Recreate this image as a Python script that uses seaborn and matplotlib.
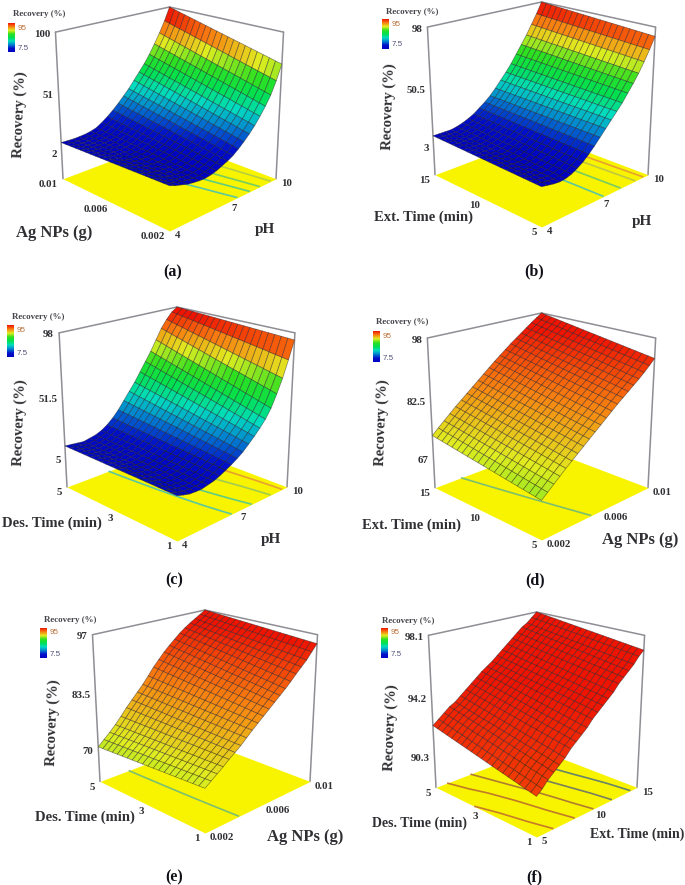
import numpy as np
import matplotlib
matplotlib.use("Agg")
import matplotlib.pyplot as plt
from matplotlib.cm import ScalarMappable
from matplotlib.colors import Normalize
from mpl_toolkits.mplot3d import proj3d
import seaborn as sns

# ---- values ----
# Each surface: response along the right-hand factor at the low and the high end of the left-hand factor
a_low = [14, 12, 10.5, 9, 8.2, 7.6, 7.5, 8.2, 9.5, 11.5, 13.5, 16, 19.5, 23.5, 28, 33, 39, 45.5, 53, 63, 75]
a_high = [10.5, 10.2, 10, 10.2, 10.6, 11.5, 13, 16, 19.5, 23.5, 28, 33, 38, 44, 50, 56, 63, 71, 79.5, 89, 100]
b_low = [9.5, 8.5, 7.5, 7, 7.5, 9, 11.5, 14.5, 18.5, 23, 28, 33, 38, 43, 48, 54, 60, 66.5, 74, 82, 91]
b_high = [12, 12, 12, 12, 13, 14.5, 16.5, 19, 22.5, 26, 30, 35, 40.5, 46, 52, 59, 66, 73, 81, 89, 98]
c_low = [14, 12.5, 11.3, 11, 11, 12, 13, 14.8, 17, 19.3, 22, 25, 29, 33, 37.5, 42.5, 49, 58, 68, 80, 93]
c_high = [14.5, 14, 13.5, 13, 14, 15, 17, 20, 24, 29, 35, 41, 47, 54, 61, 68, 76, 84, 90, 95, 98]
d_low = [68.7, 70, 71.3, 72.6, 73.9, 75.1, 76.3, 77.5, 78.7, 79.9, 81.1, 82.3, 83.5, 84.7, 85.8, 86.9, 88, 89.1, 90.3, 91.6, 93]
d_high = [73.2, 74.7, 76.1, 77.5, 78.9, 80.2, 81.5, 82.8, 84.1, 85.4, 86.7, 88, 89.2, 90.4, 91.6, 92.7, 93.8, 94.9, 96, 97, 98]
e_low = [72, 73, 74, 75, 76.1, 77.1, 78.1, 79.3, 80.5, 81.6, 82.7, 83.8, 84.9, 86, 87.1, 88.3, 89.6, 90.8, 92, 93.5, 95]
e_high = [70.7, 72, 73.3, 74.7, 76.3, 78, 79.5, 81, 82.5, 84.2, 86, 87.5, 89, 90.3, 91.5, 92.7, 93.7, 94.6, 95.4, 96.2, 97]
f_low = [90.7, 91, 91.4, 91.7, 92, 92.3, 92.7, 93, 93.3, 93.6, 94, 94.3, 94.6, 94.9, 95.2, 95.6, 95.9, 96.2, 96.5, 96.9, 97.2]
f_high = [92.4, 92.7, 93, 93.3, 93.5, 93.8, 94.1, 94.4, 94.7, 95, 95.25, 95.5, 95.8, 96.1, 96.4, 96.7, 97, 97.3, 97.5, 97.8, 98.1]

ph_ticks = [4, 7, 10]
ag_ticks = [0.002, 0.006, 0.01]
ext_ticks = [5, 10, 15]
des_ticks = [1, 3, 5]
ag_labels = ["0.002", "0.006", "0.01"]

a_z = [2, 51, 100]
b_z = [3, 50.5, 98]
c_z = [5, 51.5, 98]
d_z = [67, 82.5, 98]
e_z = [70, 83.5, 97]
f_z = [90.3, 94.2, 98.1]
floors = {"a": -21, "b": -21, "c": -18, "d": 59, "e": 62, "f": 88.2}
levels = {"a": [20, 31, 43, 62], "b": [33, 50, 69, 82], "c": [20, 33, 55, 80],
          "d": [79.5], "e": [78], "f": [91.7, 93, 94.2, 95.4, 96.7]}
level_colors = {"a": ["#5CC8A0", "#60CC80", "#78CC60", "#B8D040"],
                "b": ["#5CC8A0", "#78CC60", "#C0C840", "#E8A030"],
                "c": ["#5CC8A0", "#60CC80", "#A0CC50", "#E8A030"],
                "d": ["#7CBF70"], "e": ["#7CBF70"],
                "f": ["#C87A28", "#C07A28", "#B07C30", "#78805C", "#688468"]}

# ---- layout (pixels in the 685x885 picture) ----
W, H = 685, 885
ELEV, FOCAL = 20, 0.55
panels = [
    dict(k="a", lo=a_low, hi=a_high, xt=ph_ticks, xl=["4", "7", "10"], yt=ag_ticks, yl=ag_labels, zt=a_z, zl=["2", "51", "100"],
         L=63, R=276, F=231, T=7, xt_name="pH", yt_name="Ag NPs (g)", xp=(265, 229), yp=(54, 233), zp=(20, 115), tag=(173, 272),
         bar=(8, 23, 7, 29), title=(39, 14), ys=12, xs=11),
    dict(k="b", lo=b_low, hi=b_high, xt=ph_ticks, xl=["4", "7", "10"], yt=ext_ticks, yl=["5", "10", "15"], zt=b_z, zl=["3", "50.5", "98"],
         L=435, R=648, F=227, T=2, xt_name="pH", yt_name="Ext. Time (min)", xp=(642, 222), yp=(423, 217), zp=(389, 107), tag=(534, 271),
         bar=(382, 19, 7, 30), title=(412, 12), ys=10.5, xs=11),
    dict(k="c", lo=c_low, hi=c_high, xt=ph_ticks, xl=["4", "7", "10"], yt=des_ticks, yl=["1", "3", "5"], zt=c_z, zl=["5", "51.5", "98"],
         L=67, R=287, F=541, T=307, xt_name="pH", yt_name="Des. Time (min)", xp=(271, 539), yp=(52, 523), zp=(20, 423), tag=(174, 580),
         bar=(7, 325, 7, 32), title=(38, 317), ys=10.5, xs=11),
    dict(k="d", lo=d_low, hi=d_high, xt=ag_ticks, xl=ag_labels, yt=ext_ticks, yl=["5", "10", "15"], zt=d_z, zl=["67", "82.5", "98"],
         L=435, R=648, F=540, T=313, xt_name="Ag NPs (g)", yt_name="Ext. Time (min)", xp=(640, 540), yp=(412, 525), zp=(382, 423), tag=(535, 580),
         bar=(373, 331, 7, 31), title=(402, 322), ys=10.5, xs=12),
    dict(k="e", lo=e_low, hi=e_high, xt=ag_ticks, xl=ag_labels, yt=des_ticks, yl=["1", "3", "5"], zt=e_z, zl=["70", "83.5", "97"],
         L=100, R=310, F=833, T=610, xt_name="Ag NPs (g)", yt_name="Des. Time (min)", xp=(305, 837), yp=(85, 817), zp=(53, 723), tag=(174, 877),
         bar=(40, 628, 7, 30), title=(70, 620), ys=10.5, xs=12),
    dict(k="f", lo=f_low, hi=f_high, xt=ext_ticks, xl=["5", "10", "15"], yt=des_ticks, yl=["1", "3", "5"], zt=f_z, zl=["90.3", "94.2", "98.1"],
         L=436, R=637, F=837, T=612, xt_name="Ext. Time (min)", yt_name="Des. Time (min)", xp=(637, 834), yp=(420, 823), zp=(391, 728), tag=(534, 877),
         bar=(381, 628, 7, 30), title=(408, 621), ys=10, xs=10),
]

sns.set_theme(style="white")
plt.rcParams["font.family"] = ["Liberation Serif", "DejaVu Serif"]
cmap = sns.blend_palette(["#0000C0", "#0010C8", "#0080D0", "#00DCC0", "#00E050",
                          "#30E020", "#E0EC20", "#F88010", "#EE1400"], n_colors=256, as_cmap=True)
norm = Normalize(7.5, 95)
INK = "#303034"
FRAME = "#8E8E94"

fig = plt.figure(figsize=(W / 100, H / 100), dpi=100, facecolor="white")


def ftext(x, y, s, **kw):
    kw.setdefault("ha", "center")
    kw.setdefault("va", "center")
    kw.setdefault("color", INK)
    fig.text(x / W, 1 - y / H, s, **kw)


def to_px(ax, x, y, z):
    X, Y, _ = proj3d.proj_transform(x, y, z, ax.get_proj())
    px = ax.transData.transform((X, Y))
    return px[0], H - px[1]


def set_square(ax, cx, cy, S):
    ax.set_position([(cx - S / 2) / W, 1 - (cy + S / 2) / H, S / W, S / H])
    ax.apply_aspect()


for p in panels:
    lo, hi = np.array(p["lo"]), np.array(p["hi"])
    x = np.linspace(p["xt"][0], p["xt"][-1], lo.size)
    y = np.linspace(p["yt"][0], p["yt"][-1], lo.size)
    X, Y = np.meshgrid(x, y)
    weight = (Y - y[0]) / (y[-1] - y[0])
    Z = lo[None, :] * (1 - weight) + hi[None, :] * weight
    k = p["k"]
    floor, top = floors[k], p["zt"][-1]
    x0, x1, y0, y1 = x[0], x[-1], y[0], y[-1]

    cx, cy, S = (p["L"] + p["R"]) / 2, (p["F"] + p["T"]) / 2, 420
    ax = fig.add_axes([0, 0, 0.5, 0.5], projection="3d", computed_zorder=False)
    ax.set_proj_type("persp", focal_length=FOCAL)
    ax.view_init(elev=ELEV, azim=-135)
    ax.set_axis_off()

    # back frame, floor, contours on the floor, surface
    fk = dict(color=FRAME, lw=1.1, zorder=1, solid_capstyle="round")
    ax.plot([x0, x0], [y1, y1], [floor, top], **fk)
    ax.plot([x1, x1], [y0, y0], [floor, top], **fk)
    ax.plot([x1, x1], [y1, y1], [floor, top], **fk)
    ax.plot([x0, x1], [y1, y1], [top, top], **fk)
    ax.plot([x1, x1], [y1, y0], [top, top], **fk)
    ax.plot_surface(np.array([[x0, x1], [x0, x1]]), np.array([[y0, y0], [y1, y1]]), np.full((2, 2), float(floor)),
                    color="#F8F400", shade=False, linewidth=0, zorder=2)
    ax.contour(X, Y, Z, levels=levels[k], zdir="z", offset=floor, colors=level_colors[k], linewidths=1.2, zorder=3)
    ax.plot_surface(X, Y, Z, cmap=cmap, norm=norm, rstride=1, cstride=1, shade=False,
                    linewidth=0.5, edgecolor=(0.1, 0.08, 0.12, 0.5), antialiased=True, zorder=4)
    ax.set_xlim(x0, x1, view_margin=0)
    ax.set_ylim(y0, y1, view_margin=0)
    ax.set_zlim(floor, top, view_margin=0)

    # fit the box onto the picture's corners
    az = 0.9
    for _ in range(8):
        ax.set_box_aspect((1, 1, az))
        set_square(ax, cx, cy, S)
        Lp = to_px(ax, x0, y1, floor)
        Rp = to_px(ax, x1, y0, floor)
        Fp = to_px(ax, x0, y0, floor)
        Tp = to_px(ax, x1, y1, top)
        width = Rp[0] - Lp[0]
        az *= ((p["F"] - p["T"]) / (p["R"] - p["L"])) / ((Fp[1] - Tp[1]) / width)
        S *= (p["R"] - p["L"]) / width
        cx += (p["L"] + p["R"]) / 2 - (Lp[0] + Rp[0]) / 2
        cy += (p["F"] + p["T"]) / 2 - (Fp[1] + Tp[1]) / 2
    ax.set_box_aspect((1, 1, az))
    set_square(ax, cx, cy, S)

    # tick labels
    tick = dict(fontsize=7.8, fontweight="bold")
    for v, s in zip(p["xt"], p["xl"]):
        px, py = to_px(ax, v, y0, floor)
        ftext(px + 5, py + 5, s, ha="left", **tick)
    for v, s in zip(p["yt"], p["yl"]):
        px, py = to_px(ax, x0, v, floor)
        ftext(px - 5, py + 6, s, ha="right", **tick)
    for v, s in zip(p["zt"], p["zl"]):
        px, py = to_px(ax, x0, y1, v)
        ftext(px - 5, py + 2, s, ha="right", **tick)

    # axis titles and panel tag
    ftext(*p["xp"], p["xt_name"], fontsize=p["xs"], fontweight="bold")
    ftext(*p["yp"], p["yt_name"], fontsize=p["ys"], fontweight="bold")
    ftext(*p["zp"], "Recovery (%)", fontsize=10.5, fontweight="bold", rotation=88)
    ftext(*p["tag"], f"({k})", fontsize=11.5, fontweight="bold", color="#101018")

    # small colour key
    bx, by, bw, bh = p["bar"]
    cax = fig.add_axes([bx / W, 1 - (by + bh) / H, bw / W, bh / H])
    cb = fig.colorbar(ScalarMappable(norm=norm, cmap=cmap), cax=cax)
    cb.set_ticks([])
    cb.outline.set_visible(False)
    ftext(*p["title"], "Recovery (%)", fontsize=6.4, fontweight="bold", color="#44444A")
    ftext(bx + bw + 3, by + 5, "95", ha="left", fontsize=5.8, color="#B8703A", family="Liberation Sans")
    ftext(bx + bw + 3, by + bh - 4, "7.5", ha="left", fontsize=5.8, color="#50507A", family="Liberation Sans")

fig.savefig("out.png", dpi=100)
